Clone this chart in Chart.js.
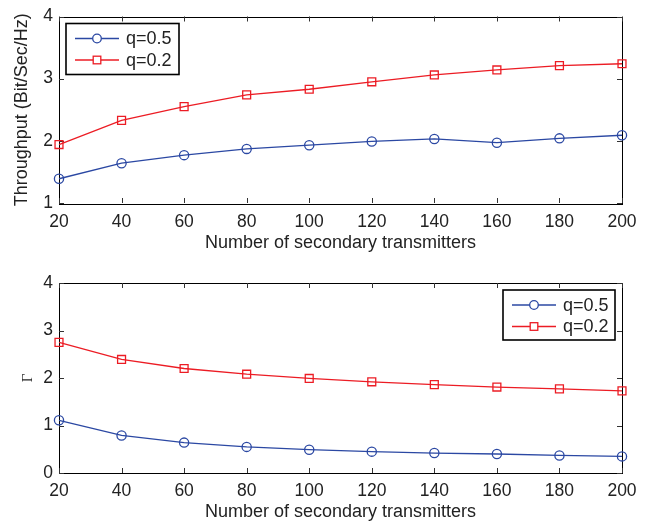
<!DOCTYPE html>
<html>
<head>
<meta charset="utf-8">
<script src="https://cdn.jsdelivr.net/npm/chart.js@4.4.1/dist/chart.umd.min.js"></script>
<style>
  html, body { margin: 0; padding: 0; background: #ffffff; }
  .box { position: relative; width: 654px; }
  canvas { display: block; }
</style>
</head>
<body>
<div class="box" style="height:260px"><canvas id="c1" width="654" height="260"></canvas></div>
<div class="box" style="height:263px"><canvas id="c2" width="654" height="263"></canvas></div>
<script>
// ---- data ----
const xValues = [20, 40, 60, 80, 100, 120, 140, 160, 180, 200];
const seriesLabels = ['q=0.5', 'q=0.2'];
const throughputQ05 = [1.39, 1.64, 1.77, 1.87, 1.93, 1.99, 2.03, 1.97, 2.04, 2.09];
const throughputQ02 = [1.94, 2.33, 2.55, 2.74, 2.83, 2.95, 3.06, 3.14, 3.21, 3.24];
const gammaQ05 = [1.11, 0.79, 0.64, 0.55, 0.49, 0.45, 0.42, 0.40, 0.37, 0.35];
const gammaQ02 = [2.75, 2.39, 2.20, 2.08, 1.99, 1.92, 1.86, 1.81, 1.77, 1.73];
const xTitle = 'Number of secondary transmitters';
const yTitleTop = 'Throughput (Bit/Sec/Hz)';
const yTitleBottom = 'Γ';

const BLUE = '#2b48a3';
const RED = '#ec1c24';
const TEXT = '#222222';
const FONT = 'Liberation Sans, Arial, Helvetica, sans-serif';

function pts(ys) { return xValues.map((x, i) => ({ x: x, y: ys[i] })); }

function makeDatasets(a, b) {
  return [
    { label: seriesLabels[0], data: pts(a), borderColor: BLUE, backgroundColor: 'rgba(255,255,255,0)',
      borderWidth: 1.3, pointStyle: 'circle', pointRadius: 4.6, pointBorderWidth: 1.3,
      pointBackgroundColor: 'rgba(255,255,255,0)', tension: 0, clip: false },
    { label: seriesLabels[1], data: pts(b), borderColor: RED, backgroundColor: 'rgba(255,255,255,0)',
      borderWidth: 1.3, pointStyle: 'rect', pointRadius: 5.6, pointBorderWidth: 1.3,
      pointBackgroundColor: 'rgba(255,255,255,0)', tension: 0, clip: false }
  ];
}

// frame + inward ticks (MATLAB style box)
const framePlugin = {
  id: 'frame',
  beforeDatasetsDraw(chart) {
    const { ctx, chartArea: a, scales } = chart;
    ctx.save();
    ctx.strokeStyle = '#000';
    ctx.lineWidth = 1;
    ctx.strokeRect(Math.round(a.left) + 0.5, Math.round(a.top) + 0.5,
                   Math.round(a.right - a.left), Math.round(a.bottom - a.top));
    const L = 5;
    ctx.strokeStyle = '#333';
    scales.x.ticks.forEach(t => {
      const px = Math.round(scales.x.getPixelForValue(t.value)) + 0.5;
      ctx.beginPath();
      ctx.moveTo(px, a.bottom); ctx.lineTo(px, a.bottom - L);
      ctx.moveTo(px, a.top); ctx.lineTo(px, a.top + L);
      ctx.stroke();
    });
    scales.y.ticks.forEach(t => {
      const py = Math.round(scales.y.getPixelForValue(t.value)) + 0.5;
      ctx.beginPath();
      ctx.moveTo(a.left, py); ctx.lineTo(a.left + L, py);
      ctx.moveTo(a.right, py); ctx.lineTo(a.right - L, py);
      ctx.stroke();
    });
    ctx.restore();
  }
};

// legend box inside the plot area
const boxLegendPlugin = {
  id: 'boxLegend',
  afterDraw(chart, args, opts) {
    const { ctx, chartArea: a } = chart;
    const w = opts.width, h = opts.height;
    const x0 = opts.align === 'right' ? a.right - opts.offsetX - w : a.left + opts.offsetX;
    const y0 = a.top + opts.offsetY;
    ctx.save();
    ctx.fillStyle = '#fff';
    ctx.fillRect(x0, y0, w, h);
    ctx.strokeStyle = '#000';
    ctx.lineWidth = 1.6;
    ctx.strokeRect(x0, y0, w, h);
    ctx.font = '18px ' + FONT;
    ctx.textBaseline = 'middle';
    ctx.fillStyle = TEXT;
    chart.data.datasets.forEach((ds, i) => {
      const cy = y0 + 15 + i * 21.5;
      ctx.strokeStyle = ds.borderColor;
      ctx.lineWidth = 1.3;
      ctx.beginPath();
      ctx.moveTo(x0 + 9, cy); ctx.lineTo(x0 + 53, cy);
      ctx.stroke();
      const mx = x0 + 31;
      ctx.fillStyle = '#fff';
      if (ds.pointStyle === 'circle') {
        ctx.beginPath(); ctx.arc(mx, cy, 4.3, 0, Math.PI * 2); ctx.fill(); ctx.stroke();
      } else {
        ctx.fillRect(mx - 3.8, cy - 3.8, 7.6, 7.6);
        ctx.strokeRect(mx - 3.8, cy - 3.8, 7.6, 7.6);
      }
      ctx.fillStyle = TEXT;
      ctx.fillText(ds.label, x0 + 60, cy + 1);
    });
    ctx.restore();
  }
};

function makeChart(id, a, b, yMin, yTitle, yTitleFont, yTitlePad, padTop, xAxisH, legendOpts, xTitlePadBottom, tickPad) {
  return new Chart(document.getElementById(id), {
    type: 'line',
    data: { datasets: makeDatasets(a, b) },
    plugins: [framePlugin, boxLegendPlugin],
    options: {
      responsive: false,
      devicePixelRatio: 1,
      animation: false,
      layout: { padding: { left: 0, right: 32, top: padTop, bottom: 0 } },
      plugins: {
        legend: { display: false },
        tooltip: { enabled: false },
        boxLegend: legendOpts
      },
      scales: {
        x: {
          type: 'linear', min: 20, max: 200,
          ticks: { stepSize: 20, font: { family: FONT, size: 17.5 }, color: TEXT, padding: tickPad, maxRotation: 0 },
          grid: { display: false, drawTicks: false },
          border: { display: false },
          title: { display: true, text: xTitle, font: { family: FONT, size: 18 }, color: TEXT,
                   padding: { top: 0, bottom: xTitlePadBottom } },
          afterFit: s => { s.height = xAxisH; }
        },
        y: {
          type: 'linear', min: yMin, max: 4,
          ticks: { stepSize: 1, font: { family: FONT, size: 17.5 }, color: TEXT, padding: 6 },
          grid: { display: false, drawTicks: false },
          border: { display: false },
          title: { display: true, text: yTitle, font: yTitleFont, color: TEXT,
                   padding: { top: yTitlePad, bottom: 0 } },
          afterFit: s => { s.width = 59; }
        }
      }
    }
  });
}

makeChart('c1', throughputQ05, throughputQ02, 1, yTitleTop, { family: FONT, size: 18 }, 11, 12, 57,
  { align: 'left', offsetX: 7, offsetY: 7, width: 113, height: 51 }, 6, 9);
makeChart('c2', gammaQ05, gammaQ02, 0, yTitleBottom, { family: 'Liberation Serif, Times New Roman, serif', size: 15 }, 19, 23, 50,
  { align: 'right', offsetX: 7, offsetY: 7, width: 112, height: 50 }, 0, 8);
</script>
</body>
</html>
